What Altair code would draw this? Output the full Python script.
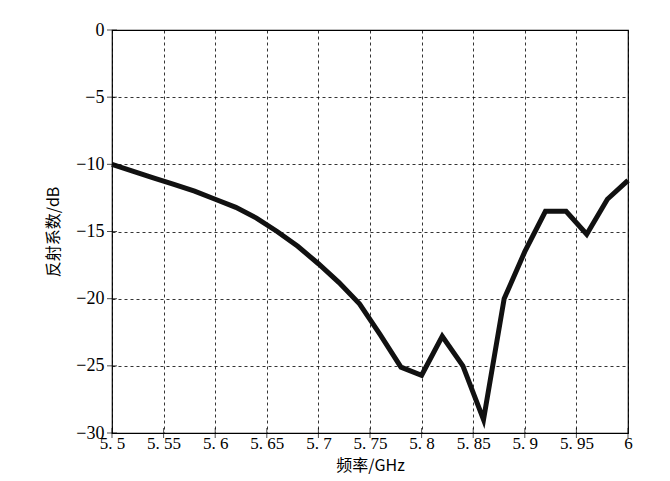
import altair as alt
import pandas as pd

freq = [5.50, 5.52, 5.54, 5.56, 5.58, 5.60, 5.62, 5.64, 5.66, 5.68, 5.70, 5.72, 5.74,
        5.76, 5.78, 5.80, 5.82, 5.84, 5.86, 5.88, 5.90, 5.92, 5.94, 5.96, 5.98, 6.00]
s11 = [-10.0, -10.5, -11.0, -11.5, -12.0, -12.6, -13.2, -14.0, -15.0, -16.1, -17.4, -18.8, -20.4,
       -22.7, -25.1, -25.7, -22.8, -25.0, -29.0, -20.0, -16.5, -13.5, -13.5, -15.2, -12.6, -11.2]
x_ticks = [5.5, 5.55, 5.6, 5.65, 5.7, 5.75, 5.8, 5.85, 5.9, 5.95, 6.0]
y_ticks = [0, -5, -10, -15, -20, -25, -30]

df = pd.DataFrame({"f": freq, "s": s11})
FONT = "Liberation Serif"
CJK = "Noto Sans CJK SC"

xs = alt.Scale(domain=[5.5, 6.0], nice=False, zero=False)
ys = alt.Scale(domain=[-30, 0], nice=False)

line = alt.Chart(df).mark_line(color="#111111", strokeWidth=5, strokeJoin="miter").encode(
    x=alt.X("f:Q", scale=xs,
            axis=alt.Axis(values=x_ticks, title="频率/GHz", grid=True, gridDash=[3, 3],
                          gridColor="#000000", gridOpacity=1, gridWidth=0.8,
                          domain=False, ticks=False, labelFont=FONT, labelFontSize=17,
                          labelColor="#000000", labelPadding=2, labelFlush=False,
                          format=".3~f",
                          labelExpr="replace(datum.label, '.', '. ')",
                          titleFont=CJK, titleFontSize=16, titleFontWeight="normal",
                          titleColor="#000000", titlePadding=6)),
    y=alt.Y("s:Q", scale=ys,
            axis=alt.Axis(values=y_ticks, title="反射系数/dB", grid=True, gridDash=[3, 3],
                          gridColor="#000000", gridOpacity=1, gridWidth=0.8,
                          domain=False, ticks=False, labelFont=FONT, labelFontSize=18,
                          labelColor="#000000", labelPadding=8, labelFlush=False,
                          titleFont=CJK, titleFontSize=16, titleFontWeight="normal",
                          titleColor="#000000", titlePadding=14)),
)

xt = pd.DataFrame({"t": x_ticks})
yt = pd.DataFrame({"t": y_ticks})
xtick_marks = alt.Chart(xt).mark_tick(color="#000000", thickness=1, size=10).encode(
    x=alt.X("t:Q", scale=xs), y=alt.value(403))
yt_left = alt.Chart(yt).mark_tick(color="#000000", thickness=1, size=10, orient="horizontal").encode(
    y=alt.Y("t:Q", scale=ys), x=alt.value(0))

chart = alt.layer(line, xtick_marks, yt_left).properties(
    width=516, height=403,
    autosize=alt.AutoSizeParams(type="none"),
    padding={"left": 104, "top": 22, "right": 34, "bottom": 48},
    background="#ffffff",
).configure_view(stroke="#000000", strokeWidth=1.2)

chart.save("out.html", embed_options={"renderer": "svg", "actions": False})
